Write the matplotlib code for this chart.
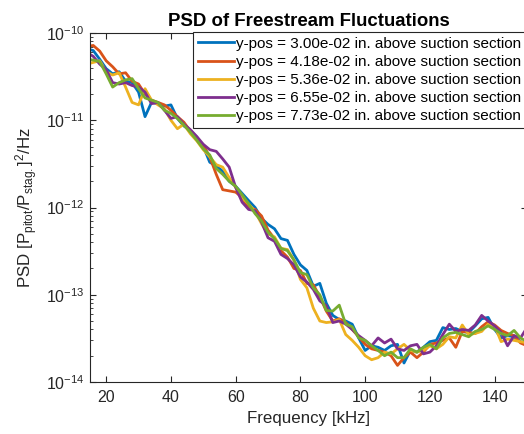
import numpy as np
import matplotlib
matplotlib.use("Agg")
import matplotlib.pyplot as plt
from matplotlib.ticker import MultipleLocator, LogLocator, NullFormatter

plt.rcParams['font.family'] = ['Liberation Sans', 'DejaVu Sans']
plt.rcParams['mathtext.default'] = 'regular'

# frequency grid [kHz]
freq = np.arange(14, 151, 2)

psd_y300 = [6.6e-11, 6.3e-11, 5.0e-11, 3.9e-11, 3.4e-11, 3.6e-11, 2.8e-11, 2.7e-11, 2.1e-11, 1.1e-11,
            1.6e-11, 1.55e-11, 1.45e-11, 1.5e-11, 1.05e-11, 8.6e-12, 7.6e-12, 6.4e-12, 5.0e-12, 3.3e-12,
            3.0e-12, 2.6e-12, 2.0e-12, 1.75e-12, 1.45e-12, 1.2e-12, 1.0e-12, 7.5e-13, 6.4e-13, 5.7e-13,
            4.4e-13, 4.2e-13, 2.9e-13, 2.2e-13, 1.9e-13, 1.25e-13, 1.35e-13, 8.0e-14, 5.8e-14, 5.2e-14,
            5.0e-14, 4.6e-14, 3.2e-14, 2.3e-14, 2.6e-14, 2.5e-14, 2.3e-14, 2.6e-14, 2.7e-14, 1.65e-14,
            2.3e-14, 2.2e-14, 2.5e-14, 2.9e-14, 3.0e-14, 4.2e-14, 4.0e-14, 4.1e-14, 3.8e-14, 3.7e-14,
            4.4e-14, 5.3e-14, 5.5e-14, 4.0e-14, 3.2e-14, 3.4e-14, 3.3e-14, 2.9e-14, 2.7e-14]

psd_y418 = [7.0e-11, 7.2e-11, 6.2e-11, 4.8e-11, 4.1e-11, 3.4e-11, 3.5e-11, 2.8e-11, 2.6e-11, 2.0e-11,
            1.7e-11, 1.6e-11, 1.5e-11, 1.3e-11, 1.1e-11, 9.5e-12, 7.5e-12, 6.1e-12, 5.2e-12, 3.8e-12,
            2.4e-12, 1.6e-12, 1.55e-12, 1.5e-12, 1.3e-12, 1.0e-12, 9.5e-13, 8.0e-13, 5.5e-13, 4.4e-13,
            3.2e-13, 2.7e-13, 2.0e-13, 1.9e-13, 1.35e-13, 1.3e-13, 9.5e-14, 6.5e-14, 5.0e-14, 5.3e-14,
            4.8e-14, 4.0e-14, 3.3e-14, 2.7e-14, 2.4e-14, 2.3e-14, 2.2e-14, 2.0e-14, 1.55e-14, 1.9e-14,
            2.2e-14, 1.9e-14, 2.2e-14, 2.7e-14, 2.8e-14, 3.0e-14, 3.2e-14, 2.5e-14, 3.8e-14, 3.7e-14,
            3.6e-14, 4.3e-14, 4.9e-14, 4.5e-14, 3.9e-14, 3.6e-14, 3.4e-14, 2.8e-14, 2.6e-14]

psd_y536 = [4.4e-11, 4.6e-11, 4.8e-11, 3.6e-11, 3.3e-11, 3.5e-11, 2.4e-11, 1.6e-11, 1.5e-11, 2.3e-11,
            1.7e-11, 1.5e-11, 1.35e-11, 1.0e-11, 8.0e-12, 9.0e-12, 7.0e-12, 5.8e-12, 4.6e-12, 3.8e-12,
            3.1e-12, 2.9e-12, 2.2e-12, 1.7e-12, 1.3e-12, 1.1e-12, 9.0e-13, 6.5e-13, 5.0e-13, 4.6e-13,
            3.4e-13, 3.3e-13, 2.5e-13, 1.5e-13, 1.2e-13, 7.0e-14, 5.0e-14, 4.8e-14, 4.9e-14, 5.2e-14,
            3.5e-14, 3.0e-14, 2.5e-14, 2.0e-14, 1.8e-14, 1.9e-14, 2.2e-14, 2.1e-14, 2.4e-14, 2.7e-14,
            2.3e-14, 2.2e-14, 2.3e-14, 2.6e-14, 2.4e-14, 2.7e-14, 3.3e-14, 3.2e-14, 4.5e-14, 3.5e-14,
            3.6e-14, 3.8e-14, 4.6e-14, 4.4e-14, 2.9e-14, 3.1e-14, 3.0e-14, 2.9e-14, 2.8e-14]

psd_y655 = [6.0e-11, 5.4e-11, 4.4e-11, 3.8e-11, 2.7e-11, 2.6e-11, 2.7e-11, 2.5e-11, 2.4e-11, 2.1e-11,
            1.55e-11, 1.6e-11, 1.3e-11, 1.05e-11, 1.1e-11, 9.0e-12, 7.8e-12, 6.5e-12, 5.3e-12, 4.6e-12,
            4.4e-12, 3.6e-12, 2.9e-12, 1.7e-12, 1.15e-12, 9.5e-13, 9.2e-13, 6.8e-13, 4.5e-13, 4.1e-13,
            2.9e-13, 2.6e-13, 2.2e-13, 1.6e-13, 1.4e-13, 1.15e-13, 8.5e-14, 7.5e-14, 4.8e-14, 5.0e-14,
            4.6e-14, 4.0e-14, 3.4e-14, 3.0e-14, 2.6e-14, 3.2e-14, 2.8e-14, 3.1e-14, 2.4e-14, 2.3e-14,
            2.6e-14, 2.7e-14, 2.1e-14, 2.2e-14, 2.6e-14, 3.5e-14, 4.6e-14, 3.8e-14, 4.0e-14, 3.9e-14,
            4.5e-14, 5.8e-14, 5.0e-14, 4.4e-14, 3.7e-14, 2.6e-14, 3.4e-14, 3.2e-14, 4.2e-14]

psd_y773 = [5.0e-11, 4.9e-11, 4.7e-11, 3.4e-11, 2.4e-11, 2.7e-11, 2.9e-11, 3.0e-11, 2.3e-11, 1.8e-11,
            1.7e-11, 1.6e-11, 1.3e-11, 1.2e-11, 1.05e-11, 8.8e-12, 7.3e-12, 5.9e-12, 4.7e-12, 4.0e-12,
            2.8e-12, 2.4e-12, 2.0e-12, 1.75e-12, 1.4e-12, 1.1e-12, 8.5e-13, 7.0e-13, 5.2e-13, 4.4e-13,
            3.4e-13, 3.2e-13, 2.5e-13, 1.8e-13, 1.7e-13, 1.2e-13, 1.0e-13, 6.6e-14, 6.5e-14, 7.6e-14,
            4.6e-14, 4.3e-14, 3.2e-14, 3.0e-14, 2.6e-14, 2.3e-14, 2.0e-14, 2.2e-14, 1.9e-14, 1.9e-14,
            2.4e-14, 2.2e-14, 2.5e-14, 2.7e-14, 2.4e-14, 3.2e-14, 3.6e-14, 3.7e-14, 3.5e-14, 3.3e-14,
            3.8e-14, 4.0e-14, 4.4e-14, 4.0e-14, 3.6e-14, 3.4e-14, 3.9e-14, 3.2e-14, 2.9e-14]

series = [psd_y300, psd_y418, psd_y536, psd_y655, psd_y773]
labels = ["y-pos = 3.00e-02 in. above suction section",
          "y-pos = 4.18e-02 in. above suction section",
          "y-pos = 5.36e-02 in. above suction section",
          "y-pos = 6.55e-02 in. above suction section",
          "y-pos = 7.73e-02 in. above suction section"]
colors = ["#0072BD", "#D95319", "#EDB120", "#7E2F8E", "#77AC30"]
yticks = [1e-14, 1e-13, 1e-12, 1e-11, 1e-10]

fig = plt.figure(figsize=(5.24, 4.34), dpi=100)
ax = fig.add_axes([90/524, 52/434, 437/524, 349/434])

for vals, lab, col in zip(series, labels, colors):
    ax.plot(freq, vals, color=col, lw=2.0, label=lab)

ax.set_yscale('log')
ax.set_xlim(15, 150)
ax.set_ylim(1e-14, 1e-10)
ax.xaxis.set_major_locator(MultipleLocator(20))
ax.set_yticks(yticks)
ax.yaxis.set_minor_locator(LogLocator(base=10, subs=np.arange(2, 10), numticks=10))
ax.yaxis.set_minor_formatter(NullFormatter())

gray = "#262626"
for sp in ax.spines.values():
    sp.set_color(gray)
    sp.set_linewidth(0.8)
ax.tick_params(which='both', direction='in', top=True, right=True, colors=gray,
               labelsize=11.5, labelcolor=gray)
ax.tick_params(which='major', length=4.5, width=0.8)
ax.tick_params(which='minor', length=2.5, width=0.6)
ax.tick_params(axis='x', pad=6)
ax.tick_params(axis='y', pad=4)

ax.set_xlabel("Frequency [kHz]", fontsize=12.2, color=gray)
ax.set_ylabel("PSD [P$_{pitot}$/P$_{stag.}$]$^2$/Hz", fontsize=12.2, color=gray)
ax.set_title("PSD of Freestream Fluctuations", fontsize=13.4, fontweight='bold', pad=5)

leg = ax.legend(loc='upper left', bbox_to_anchor=((193 - 90) / 437, 1.003), fontsize=11.0,
                frameon=True, fancybox=False, framealpha=1, edgecolor=gray,
                handlelength=2.35, handletextpad=0.15, labelspacing=0.27,
                borderpad=0.32, borderaxespad=0)
leg.get_frame().set_linewidth(0.8)

fig.savefig("out.png", dpi=100)
